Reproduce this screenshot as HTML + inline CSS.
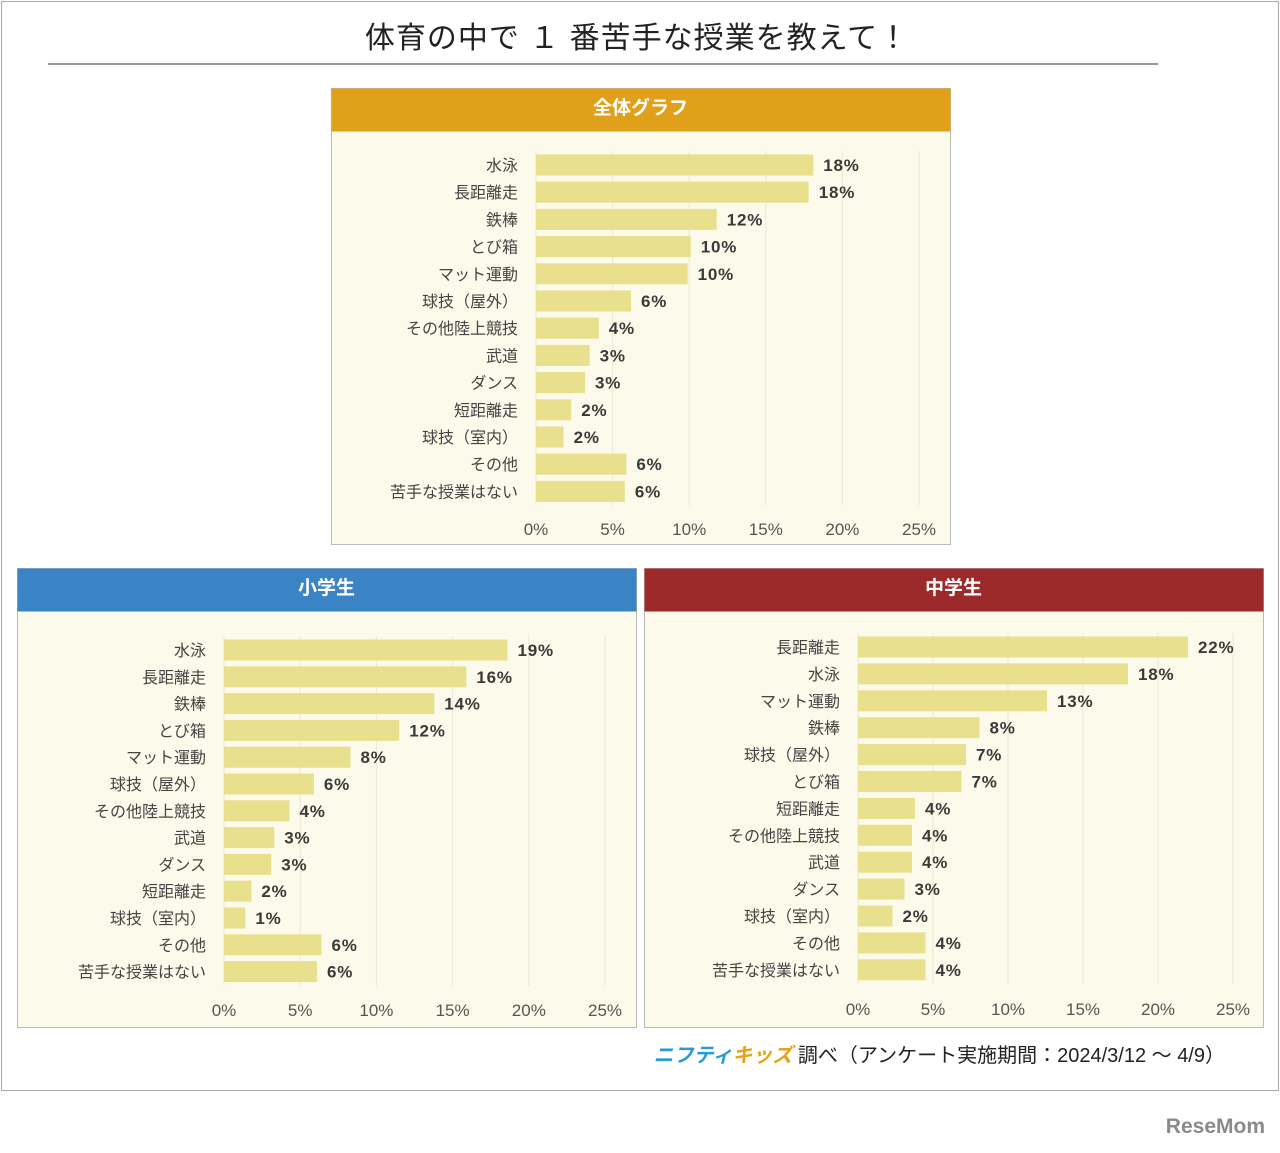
<!DOCTYPE html>
<html><head><meta charset="utf-8">
<style>
body{margin:0;background:#fff;width:1280px;height:1148px;overflow:hidden;font-family:"Liberation Sans","Noto Sans CJK JP",sans-serif;}
svg text{font-family:"Liberation Sans","Noto Sans CJK JP",sans-serif;}
</style></head><body>
<svg id="s" width="1280" height="1148" xmlns="http://www.w3.org/2000/svg">
<rect x="1.5" y="1.5" width="1277" height="1089" fill="#fff" stroke="#aaa"/>
<text x="637" y="48" font-size="30" text-anchor="middle" fill="#222" letter-spacing="1">体育の中で １ 番苦手な授業を教えて！</text>
<line x1="48" y1="64" x2="1158" y2="64" stroke="#777" stroke-width="1.5"/>
<text x="1225" y="1062" font-size="20" text-anchor="end" fill="#222"><tspan fill="#2a9ad6" font-weight="bold" font-style="italic">ニフティ</tspan><tspan fill="#e8a21a" font-weight="bold" font-style="italic">キッズ</tspan> 調べ（アンケート実施期間：2024/3/12 ～ 4/9）</text>
<text x="1265" y="1133" font-size="21" font-weight="bold" text-anchor="end" fill="#8a8a8a">ReseMom</text>
</svg>
<script>
const ticks = ["0%","5%","10%","15%","20%","25%"];
const tickValues = [0,5,10,15,20,25];
const catsAll = ["水泳","長距離走","鉄棒","とび箱","マット運動","球技（屋外）","その他陸上競技","武道","ダンス","短距離走","球技（室内）","その他","苦手な授業はない"];
const valsAll = [18.1,17.8,11.8,10.1,9.9,6.2,4.1,3.5,3.2,2.3,1.8,5.9,5.8];
const labelsAll = ["18%","18%","12%","10%","10%","6%","4%","3%","3%","2%","2%","6%","6%"];
const catsElem = ["水泳","長距離走","鉄棒","とび箱","マット運動","球技（屋外）","その他陸上競技","武道","ダンス","短距離走","球技（室内）","その他","苦手な授業はない"];
const valsElem = [18.6,15.9,13.8,11.5,8.3,5.9,4.3,3.3,3.1,1.8,1.4,6.4,6.1];
const labelsElem = ["19%","16%","14%","12%","8%","6%","4%","3%","3%","2%","1%","6%","6%"];
const catsJr = ["長距離走","水泳","マット運動","鉄棒","球技（屋外）","とび箱","短距離走","その他陸上競技","武道","ダンス","球技（室内）","その他","苦手な授業はない"];
const valsJr = [22.0,18.0,12.6,8.1,7.2,6.9,3.8,3.6,3.6,3.1,2.3,4.5,4.5];
const labelsJr = ["22%","18%","13%","8%","7%","7%","4%","4%","4%","3%","2%","4%","4%"];

const svg=document.getElementById('s');
const NS='http://www.w3.org/2000/svg';
function mk(tag,attrs,txt){const e=document.createElementNS(NS,tag);for(const k in attrs)e.setAttribute(k,attrs[k]);if(txt!=null)e.textContent=txt;svg.appendChild(e);return e;}

function panel(key,title,color,px,py,pw,ph,x0,x25,y0,step,cats,vals,labels,tickY){
  const g=mk('rect',{x:px+0.5,y:py+0.5,width:pw,height:ph,fill:'#FCFAEA',stroke:'#bbb'});
  
  
  const h=mk('rect',{x:px+0.5,y:py+0.5,width:pw,height:43,fill:color});
  
  
  const ht=mk('text',{x:px+pw/2,y:py+26,'font-size':19,'font-weight':'bold',fill:'#fff','text-anchor':'middle'},title);
  
  
  const sx=v=>x0+(x25-x0)*v/25;
  const top=y0-14, bot=y0+step*(cats.length-1)+14;
  tickValues.forEach((t,i)=>{
    const l=mk('line',{x1:sx(t),x2:sx(t),y1:top,y2:bot,stroke:'#ebe7d6','stroke-width':1});
    
    
    const tt=mk('text',{x:sx(t),y:tickY,'font-size':17,fill:'#555','text-anchor':'middle'},ticks[i]);
    
    
  });
  cats.forEach((c,i)=>{
    const cy=y0+step*i;
    const ct=mk('text',{x:x0-18,y:cy+6,'font-size':16,fill:'#444','text-anchor':'end'},c);
    
    
    const b=mk('rect',{x:x0,y:cy-10.5,width:sx(vals[i])-x0,height:21,fill:'#E9E08E'});
    
    
    const vt=mk('text',{x:sx(vals[i])+10,y:cy+6,'font-size':17,'font-weight':'bold',fill:'#3a3a3a','letter-spacing':'0.8'},labels[i]);
    
    
  });
}
panel('overall','全体グラフ','#E0A01A',331,88,619,456,536,919,165,27.2,catsAll,valsAll,labelsAll,535);
panel('elementary','小学生','#3A84C6',17,568,619,459,224,605,650,26.8,catsElem,valsElem,labelsElem,1016);
panel('junior-high','中学生','#9C2A2A',644,568,619,459,858,1233,647,26.9,catsJr,valsJr,labelsJr,1015);
</script>
</body></html>
